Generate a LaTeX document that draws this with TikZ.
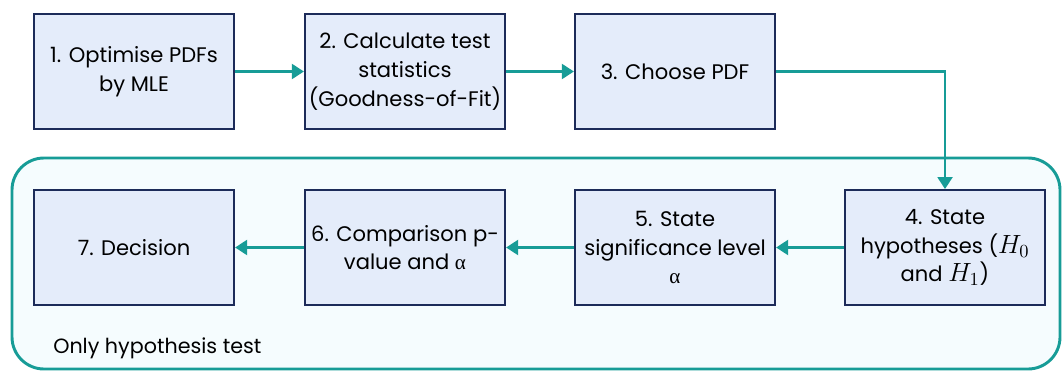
\documentclass[tikz,border=0pt]{standalone}
\usepackage{fix-cm}
\usepackage{fontspec}
\setmainfont{Poppins}
\newfontfamily\greekfont{Liberation Serif}
\usepackage{amsmath}
\usepackage{graphicx}
\usetikzlibrary{arrows.meta,shadows}

\definecolor{boxfill}{RGB}{228,236,250}
\definecolor{boxline}{RGB}{28,43,89}
\definecolor{tealline}{RGB}{23,156,151}
\definecolor{groupfill}{RGB}{245,252,254}

\tikzset{
  stepbox/.style={draw=boxline, line width=1.6pt, fill=boxfill,
    minimum width=150pt, minimum height=86pt, align=center,
    inner sep=2pt, font=\fontsize{15.8}{21.5}\selectfont,
    drop shadow={opacity=0.15, shadow xshift=1pt, shadow yshift=-1pt}},
  flow/.style={draw=tealline, line width=2.2pt,
    -{Triangle[length=9pt,width=11pt]}}
}
\newcommand{\alphaglyph}{{\greekfont α}}
\newcommand{\hyp}[1]{\scalebox{1.25}{$H_{#1}$}}

\begin{document}
\begin{tikzpicture}[x=0.75pt,y=0.75pt,yscale=-1,xscale=1]
\useasboundingbox (0,0) rectangle (1062,371);

%Shape: Rounded Rectangle [id:group]
\draw [draw=tealline, line width=2.2pt, fill=groupfill, rounded corners=24pt] (12,158) rectangle (1060,369);

% Text Node
\node (top1) [stepbox] at (134,71.5) {1. Optimise PDFs\\by MLE};
% Text Node
\node (top2) [stepbox] at (405,71.5) {2. Calculate test\\statistics\\(Goodness-of-Fit)};
% Text Node
\node (top3) [stepbox] at (675,71.5) {3. Choose PDF};
% Text Node
\node (low4) [stepbox] at (945,247.5) {4. State\\hypotheses (\hyp{0}\\and \hyp{1})};
% Text Node
\node (low5) [stepbox] at (675,247.5) {5. State\\significance level\\\alphaglyph};
% Text Node
\node (low6) [stepbox] at (405,247.5) {6. Comparison p-\\value and \alphaglyph};
% Text Node
\node (low7) [stepbox] at (134,247.5) {7. Decision};
% Text Node
\node (grouplabel) [anchor=west, inner sep=0.75pt, font=\fontsize{15.5}{20}\selectfont] at (52,348) {Only hypothesis test};

%Connectors
\draw [flow] (top1) -- (top2);
\draw [flow] (top2) -- (top3);
\draw [flow] (top3) -| (low4);
\draw [flow] (low4) -- (low5);
\draw [flow] (low5) -- (low6);
\draw [flow] (low6) -- (low7);
\end{tikzpicture}
\end{document}
